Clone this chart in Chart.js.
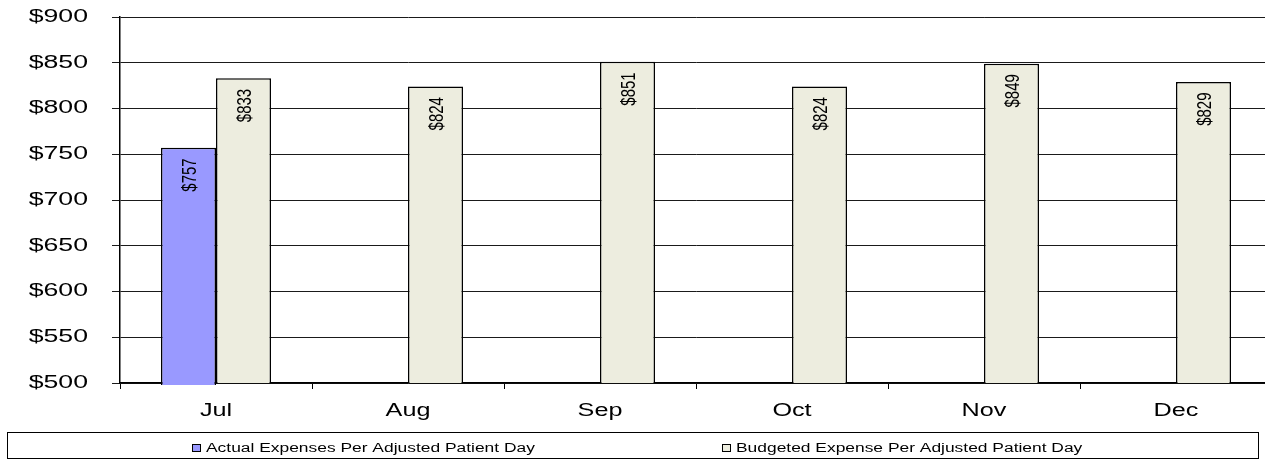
<!DOCTYPE html>
<html>
<head>
<meta charset="utf-8">
<script src="https://cdn.jsdelivr.net/npm/chart.js@4.4.1/dist/chart.umd.min.js"></script>
<style>
  html, body { margin: 0; padding: 0; background: #ffffff; overflow: hidden; }
  #wrap { width: 1280px; height: 460px; }
</style>
</head>
<body>
<div id="wrap"><canvas id="c" width="1280" height="460"></canvas></div>
<script>
const categories = ['Jul', 'Aug', 'Sep', 'Oct', 'Nov', 'Dec'];
const actualValues = [757, 0, 0, 0, 0, 0];
const budgetValues = [833, 824, 851, 824, 849, 829];
const seriesNames = ['Actual Expenses Per Adjusted Patient Day', 'Budgeted Expense Per Adjusted Patient Day'];
const yMin = 500, yMax = 900, yStep = 50;

const FONT = '"Liberation Sans", Arial, sans-serif';
const STRETCH = 1.40;

function drawStretched(ctx, text, x, y, align, size, sx) {
  ctx.save();
  ctx.translate(x, y);
  ctx.scale(sx, 1);
  ctx.font = size + 'px ' + FONT;
  ctx.fillStyle = '#000';
  ctx.textAlign = align;
  ctx.textBaseline = 'middle';
  ctx.fillText(text, 0, 0);
  ctx.restore();
}

const textPlugin = {
  id: 'stretchedText',
  afterDatasetsDraw(chart) {
    const ctx = chart.ctx;
    const ys = chart.scales.y;
    chart.data.datasets.forEach((ds, di) => {
      const meta = chart.getDatasetMeta(di);
      meta.data.forEach((el, i) => {
        const v = ds.data[i];
        if (v == null || v <= ys.min) return;
        ctx.save();
        ctx.translate(el.x + 2, el.y + 10.5);
        ctx.rotate(-Math.PI / 2);
        ctx.scale(1, STRETCH);
        ctx.font = '15px ' + FONT;
        ctx.fillStyle = '#000';
        ctx.textAlign = 'right';
        ctx.textBaseline = 'middle';
        ctx.fillText('$' + v, 0, 0);
        ctx.restore();
      });
    });
  },
  afterDraw(chart) {
    const ctx = chart.ctx;
    const ys = chart.scales.y, xs = chart.scales.x;
    ys.ticks.forEach((t, i) => {
      drawStretched(ctx, '$' + t.value, 88, ys.getPixelForTick(i), 'right', 18, 1.48);
    });
    xs.ticks.forEach((t, i) => {
      drawStretched(ctx, categories[i], xs.getPixelForTick(i), 411, 'center', 18, STRETCH);
    });
    // legend
    ctx.save();
    ctx.strokeStyle = '#000';
    ctx.lineWidth = 1;
    ctx.strokeRect(7.5, 432.5, 1251, 26);
    const itemX = [192, 722];
    chart.data.datasets.forEach((ds, di) => {
      const x0 = itemX[di];
      ctx.fillStyle = ds.backgroundColor;
      ctx.fillRect(x0 + 0.5, 444.5, 8, 7);
      ctx.strokeStyle = '#000';
      ctx.strokeRect(x0 + 0.5, 444.5, 8, 7);
      drawStretched(ctx, ds.label, x0 + 14, 448.5, 'left', 12, 1.45);
    });
    ctx.restore();
  }
};

new Chart(document.getElementById('c'), {
  type: 'bar',
  data: {
    labels: categories,
    datasets: [
      {
        label: seriesNames[0],
        data: actualValues,
        backgroundColor: '#9999ff',
        borderColor: '#000000',
        borderWidth: 1.5,
        clip: { left: 0, right: 0, top: 0, bottom: 2 }
      },
      {
        label: seriesNames[1],
        data: budgetValues,
        backgroundColor: '#ededdf',
        borderColor: '#000000',
        borderWidth: 1.5
      }
    ]
  },
  options: {
    responsive: false,
    animation: false,
    devicePixelRatio: 1,
    layout: { padding: { left: 0, right: 8, top: 17, bottom: 0 } },
    plugins: { legend: { display: false }, tooltip: { enabled: false } },
    datasets: { bar: { categoryPercentage: 0.573, barPercentage: 1.0 } },
    scales: {
      x: {
        offset: true,
        grid: { display: true, drawOnChartArea: false, drawTicks: true, tickLength: 6, color: '#000000', offset: true },
        border: { display: true, color: '#000000', width: 1.5 },
        ticks: { display: false },
        afterFit(scale) { scale.height = 77; }
      },
      y: {
        min: yMin,
        max: yMax,
        ticks: { display: false, stepSize: yStep },
        grid: { color: '#1a1a1a', lineWidth: 1, drawTicks: true, tickLength: 8 },
        border: { display: true, color: '#000000', width: 1.5 },
        afterFit(scale) { scale.width = 120; }
      }
    }
  },
  plugins: [textPlugin]
});
</script>
</body>
</html>
